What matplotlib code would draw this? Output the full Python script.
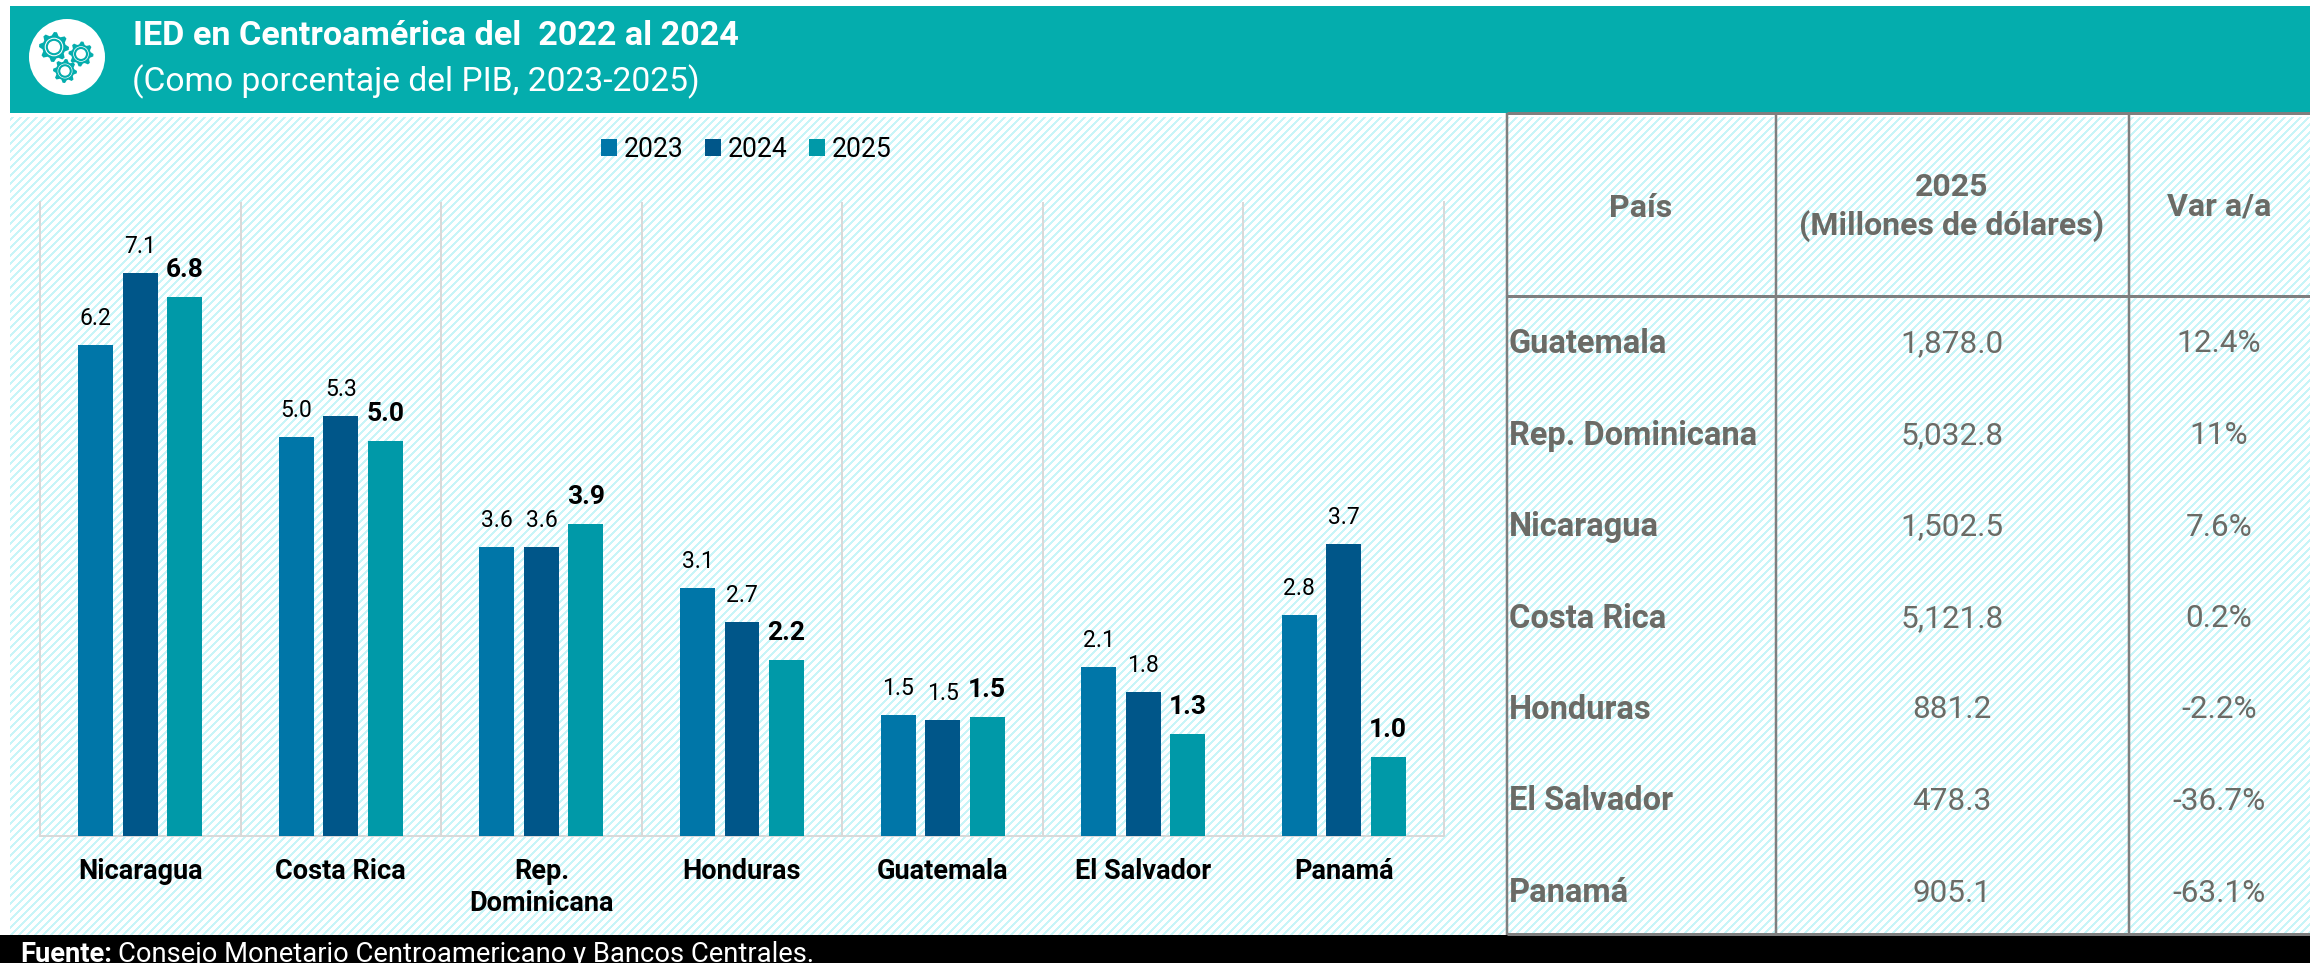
import numpy as np
import matplotlib
matplotlib.use("Agg")
import matplotlib.pyplot as plt
from matplotlib.patches import Rectangle, Circle, Polygon

plt.rcParams['font.family'] = ['Roboto', 'DejaVu Sans']

# ---- data ----
categories = ["Nicaragua", "Costa Rica", "Rep.\nDominicana", "Honduras", "Guatemala", "El Salvador", "Panamá"]
years = ["2023", "2024", "2025"]
v2023 = [6.2, 5.03, 3.64, 3.12, 1.52, 2.13, 2.79]
v2024 = [7.1, 5.30, 3.64, 2.69, 1.46, 1.81, 3.68]
v2025 = [6.8, 4.98, 3.94, 2.22, 1.50, 1.28, 0.99]
title = "IED en Centroamérica del  2022 al 2024"
subtitle = "(Como porcentaje del PIB, 2023-2025)"
tbl_countries = ["Guatemala", "Rep. Dominicana", "Nicaragua", "Costa Rica", "Honduras", "El Salvador", "Panamá"]
tbl_millions = ["1,878.0", "5,032.8", "1,502.5", "5,121.8", "881.2", "478.3", "905.1"]
tbl_var = ["12.4%", "11%", "7.6%", "0.2%", "-2.2%", "-36.7%", "-63.1%"]

# ---- style ----
W, H = 2310, 963
TEAL = "#04ADAD"
COLORS = ["#0076A8", "#005689", "#0099A8"]
GREY_TXT = "#6B6B66"
GREY_LINE = "#7F7F7F"
GRID = "#D9D9D9"
px = 72 / 100  # one pixel in points

fig = plt.figure(figsize=(W / 100, H / 100), dpi=100, facecolor="white")

# full-figure pixel layer
bg = fig.add_axes([0, 0, 1, 1], zorder=0)
bg.set_xlim(0, W); bg.set_ylim(H, 0); bg.axis("off")

# diagonal stripe texture
yy, xx = np.mgrid[0:H, 0:W]
tex = np.ones((H, W, 3))
mask = ((xx + yy) % 8 < 3) & (yy >= 117) & (xx >= 10)
tex[mask] = matplotlib.colors.to_rgb("#C8F5F8")
bg.imshow(tex, extent=(0, W, H, 0), interpolation="nearest", aspect="auto", zorder=0)
bg.set_xlim(0, W); bg.set_ylim(H, 0)

# header & footer
bg.add_patch(Rectangle((10, 6), W - 10, 107, fc=TEAL, ec="none", zorder=1))
bg.add_patch(Rectangle((0, 935), W, 28, fc="black", ec="none", zorder=1))

# icon
bg.add_patch(Circle((67, 57), 38, fc="white", ec="none", zorder=2))
def gear(cx, cy, r, teeth=8):
    ang = np.linspace(0, 2 * np.pi, teeth * 4, endpoint=False)
    rad = np.where(np.arange(teeth * 4) % 4 < 2, r, r * 0.78)
    pts = np.c_[cx + rad * np.cos(ang), cy + rad * np.sin(ang)]
    bg.add_patch(Polygon(pts, closed=True, fc=TEAL, ec="none", zorder=3))
    bg.add_patch(Circle((cx, cy), r * 0.62, fc="white", ec="none", zorder=4))
    bg.add_patch(Circle((cx, cy), r * 0.48, fc="none", ec=TEAL, lw=1.5, zorder=5))
gear(54, 47, 15); gear(81, 54, 12.5); gear(65, 71, 12)

# header text
bg.text(133, 36, title, color="white", fontsize=24.6, fontweight="bold", va="center", ha="left", zorder=3)
bg.text(132, 82, subtitle, color="white", fontsize=24.2, va="center", ha="left", zorder=3)

# footer text
t1 = bg.text(20, 954, "Fuente:", color="white", fontsize=19.7, fontweight="bold", va="center", ha="left", zorder=3)
fig.canvas.draw()
x1 = t1.get_window_extent().x1
bg.text(x1 + 6, 954, "Consejo Monetario Centroamericano y Bancos Centrales.", color="white",
        fontsize=19.7, va="center", ha="left", zorder=3)

# ---- chart ----
L, R, T, B = 40, 1444, 202, 835.5
ax = fig.add_axes([L / W, 1 - B / H, (R - L) / W, (B - T) / H], zorder=2)
ax.patch.set_alpha(0)
ax.set_xlim(0, 7); ax.set_ylim(0, 8)
centers = np.arange(len(categories)) + 0.5
step, width = 44.5 / 200.6, 35 / 200.6
series = [v2023, v2024, v2025]
for k, (vals, c, yr) in enumerate(zip(series, COLORS, years)):
    bars = ax.bar(centers + (k - 1) * step, vals, width, color=c, label=yr, zorder=3)
    bold = k == 2
    for b, v in zip(bars, vals):
        ax.annotate(f"{v:.1f}", (b.get_x() + b.get_width() / 2, v), xytext=(0, 20 * px),
                    textcoords="offset points", ha="center", va="baseline",
                    fontsize=19 if bold else 16.5, fontweight="bold" if bold else "normal",
                    color="black", zorder=4)
ax.spines["top"].set_visible(False)
for s in ["left", "right", "bottom"]:
    ax.spines[s].set_color(GRID); ax.spines[s].set_linewidth(2 * px)
ax.set_yticks([])
ax.set_xticks(np.arange(0, 8), minor=True)
ax.grid(True, axis="x", which="minor", color=GRID, lw=2 * px, zorder=1)
ax.tick_params(axis="x", which="both", length=0)
ax.set_xticks(centers)
ax.set_xticklabels(categories, fontsize=19.5, fontweight="bold", color="black", linespacing=1.25)
ax.tick_params(axis="x", which="major", pad=(858 - B) * px)

leg = ax.legend(loc="center left", bbox_to_anchor=(601 / W, 1 - 149 / H), bbox_transform=fig.transFigure,
                ncol=3, frameon=False, fontsize=19.1, borderpad=0, borderaxespad=0,
                handlelength=0.6, handleheight=0.6, handletextpad=0.27, columnspacing=0.8)

# ---- table ----
top = fig.add_axes([0, 0, 1, 1], zorder=3)
top.set_xlim(0, W); top.set_ylim(H, 0); top.axis("off")
for x in (1507, 1776, 2129):
    top.plot([x, x], [113, 935], color=GREY_LINE, lw=2.5 * px, solid_capstyle="butt")
for y in (113, 296, 934):
    top.plot([1507, W], [y, y], color=GREY_LINE, lw=3 * px, solid_capstyle="butt")
hd = dict(color=GREY_TXT, fontweight="bold", fontsize=23, va="center", ha="center")
top.text(1641, 208, "País", **hd)
top.text(1952, 187, "2025", **hd)
top.text(1952, 226, "(Millones de dólares)", **hd)
top.text(2219, 207, "Var a/a", **hd)
row_y = np.linspace(344, 893, len(tbl_countries))
for y, c, m, v in zip(row_y, tbl_countries, tbl_millions, tbl_var):
    top.text(1509, y, c, color=GREY_TXT, fontweight="bold", fontsize=23.5, va="center", ha="left")
    top.text(1952, y, m, color=GREY_TXT, fontsize=22.7, va="center", ha="center")
    top.text(2219, y, v, color=GREY_TXT, fontsize=22.7, va="center", ha="center")

fig.savefig("out.png", dpi=100, facecolor="white")
